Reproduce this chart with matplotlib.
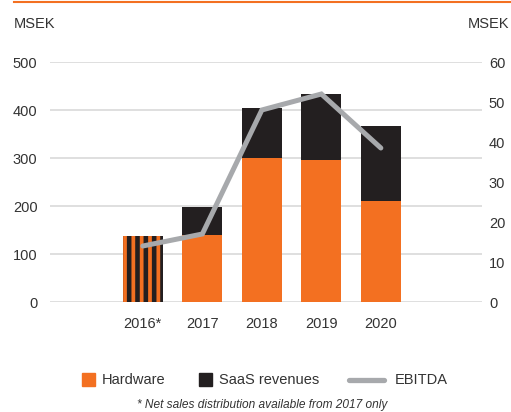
import matplotlib
matplotlib.use("Agg")
import matplotlib.pyplot as plt
from matplotlib.patches import Rectangle
from matplotlib.lines import Line2D

plt.rcParams['font.family'] = ['Liberation Sans', 'DejaVu Sans']
plt.rcParams['hatch.linewidth'] = 3.3
plt.rcParams['hatch.color'] = '#231f20'

years = ['2016*', '2017', '2018', '2019', '2020']
total_2016 = 138
hardware = [None, 140, 300, 296, 210]
saas = [None, 58, 104, 137, 157]
ebitda = [14, 17, 48, 52, 38.5]
legend_labels = ['Hardware', 'SaaS revenues', 'EBITDA']

ORANGE = '#f37021'
BLACK = '#231f20'
GRAY = '#a7a9ac'
GRID = '#d9d9d9'
TXT = '#333333'
FS = 10.5

W, H = 511, 412
fig = plt.figure(figsize=(W/100, H/100), dpi=100)
ax = fig.add_axes([50/W, 110/H, 432/W, 240/H])
ax2 = ax.twinx()

x = list(range(len(years)))
w = 0.672
ax.bar(x[0], total_2016, width=w, color=ORANGE, hatch='||', edgecolor=BLACK, linewidth=0, zorder=2)
ax.bar(x[1:], hardware[1:], width=w, color=ORANGE, zorder=2)
ax.bar(x[1:], saas[1:], width=w, bottom=hardware[1:], color=BLACK, zorder=2)

ax2.plot(x, ebitda, color=GRAY, lw=3.6, solid_capstyle='round', solid_joinstyle='miter', zorder=3)

ax.set_ylim(0, 500)
ax2.set_ylim(0, 60)
ax.set_xlim(-1.56, 5.70)
ax.set_yticks(range(0, 501, 100))
ax2.set_yticks(range(0, 61, 10))
ax.yaxis.grid(True, color=GRID, lw=1.2, zorder=0)
ax.set_axisbelow(True)
for a in (ax, ax2):
    for s in a.spines.values():
        s.set_visible(False)
    a.tick_params(length=0, labelsize=FS, labelcolor=TXT)
ax.tick_params(axis='y', pad=9)
ax2.tick_params(axis='y', pad=5)
ax.set_xticks(x)
ax.set_xticklabels(years)
ax.tick_params(axis='x', pad=11)
ax2.set_zorder(ax.get_zorder() + 1)
ax2.patch.set_visible(False)

def fx(px):
    return px / W

def fy(py):
    return 1 - py / H

fig.text(fx(14), fy(24), 'MSEK', fontsize=FS, color=TXT, ha='left', va='center')
fig.text(fx(509), fy(24), 'MSEK', fontsize=FS, color=TXT, ha='right', va='center')
fig.add_artist(Line2D([fx(14), 1], [fy(2), fy(2)], color=ORANGE, lw=1.5))

# legend
ly = 380
fig.add_artist(Rectangle((fx(82), fy(386)), 13/W, 13/H, color=ORANGE, transform=fig.transFigure))
fig.text(fx(102), fy(ly), legend_labels[0], fontsize=FS, color=TXT, ha='left', va='center')
fig.add_artist(Rectangle((fx(199), fy(386)), 13/W, 13/H, color=BLACK, transform=fig.transFigure))
fig.text(fx(219), fy(ly), legend_labels[1], fontsize=FS, color=TXT, ha='left', va='center')
fig.add_artist(Line2D([fx(349), fx(384)], [fy(ly), fy(ly)], color=GRAY, lw=3.8,
                      solid_capstyle='round'))
fig.text(fx(395), fy(ly), legend_labels[2], fontsize=FS, color=TXT, ha='left', va='center')

fig.text(fx(262), fy(405), '* Net sales distribution available from 2017 only',
         fontsize=8.6, style='italic', color=TXT, ha='center', va='center')

fig.savefig('out.png', dpi=100)
